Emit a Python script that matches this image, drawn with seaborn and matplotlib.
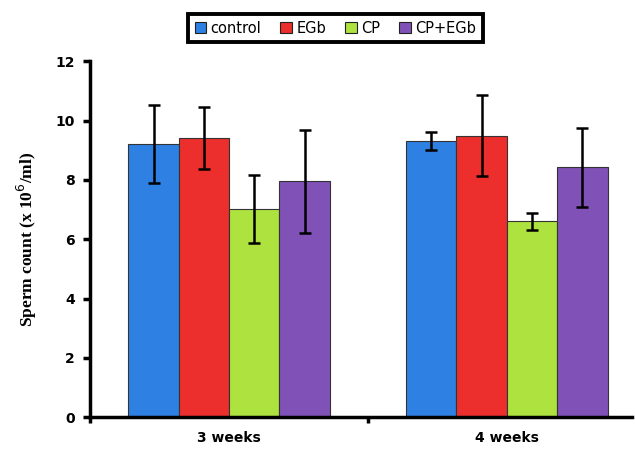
import pandas as pd
import matplotlib
matplotlib.use("Agg")
import matplotlib.pyplot as plt
import seaborn as sns

# Data
weeks = ["3 weeks", "4 weeks"]
groups = ["control", "EGb", "CP", "CP+EGb"]
week3_mean = [9.22, 9.40, 7.01, 7.95]
week3_err = [1.32, 1.04, 1.15, 1.74]
week4_mean = [9.30, 9.49, 6.60, 8.42]
week4_err = [0.30, 1.36, 0.29, 1.32]
colors = ["#2E80E2", "#EC2F2C", "#AEE33F", "#8052B7"]

df = pd.DataFrame({
    "week": [weeks[0]] * 4 + [weeks[1]] * 4,
    "group": groups * 2,
    "count": week3_mean + week4_mean,
    "err": week3_err + week4_err,
})

sns.set_style("ticks", {"axes.edgecolor": "black", "xtick.color": "black",
                        "ytick.color": "black", "text.color": "black",
                        "axes.labelcolor": "black"})
plt.rcParams["font.family"] = ["DejaVu Sans"]

fig = plt.figure(figsize=(6.35, 4.5), dpi=100)
ax = fig.add_axes([0.142, 0.073, 0.853, 0.791])

sns.barplot(
    data=df, x="week", y="count", hue="group",
    order=weeks, hue_order=groups, palette=colors,
    width=0.725, errorbar=None, edgecolor="#333333", linewidth=0.8,
    saturation=1, ax=ax
)

# error bars at the centre of each bar
for cont, g in zip(ax.containers, groups):
    sub = df[df["group"] == g].set_index("week").loc[weeks]
    xs = [p.get_x() + p.get_width() / 2 for p in cont.patches]
    ax.errorbar(xs, sub["count"], yerr=sub["err"], fmt="none",
                ecolor="black", elinewidth=1.8, capsize=4, capthick=1.8, zorder=5)

ax.set_ylim(0, 12)
ax.set_xlim(-0.5, 1.45)
ax.set_yticks(range(0, 13, 2))
ax.set_xticks([-0.5, 0.5])
ax.set_xticklabels([])
ax.set_xticks([0, 1], minor=True)
ax.set_xticklabels(weeks, minor=True, fontweight="bold", fontsize=10)
ax.tick_params(axis="x", which="minor", length=0, pad=10)
ax.tick_params(axis="x", which="major", length=4, width=2.5, direction="out")
ax.tick_params(axis="y", length=5, width=2.5, labelsize=10, pad=6)
for lab in ax.get_yticklabels():
    lab.set_fontweight("bold")

ax.set_xlabel("")
ax.set_ylabel("Sperm count (x 10$^{6}$/ml)", family="Liberation Serif",
              fontweight="bold", fontsize=12.5, labelpad=12)

sns.despine(ax=ax)
for s in ["left", "bottom"]:
    ax.spines[s].set_linewidth(2.5)

ax.get_legend().remove()
handles = [plt.Rectangle((0, 0), 1, 1, facecolor=c, edgecolor="#222222", linewidth=0.8)
           for c in colors]
leg = fig.legend(handles, groups, loc="upper center", ncol=4,
                 bbox_to_anchor=(0.528, 0.975), fancybox=False, frameon=True,
                 framealpha=1, handlelength=0.8, handleheight=0.8,
                 handletextpad=0.3, columnspacing=1.3, borderpad=0.45,
                 borderaxespad=0.2, fontsize=10.5)
leg.get_frame().set_edgecolor("black")
leg.get_frame().set_linewidth(2.8)

fig.savefig("out.png", dpi=100)
